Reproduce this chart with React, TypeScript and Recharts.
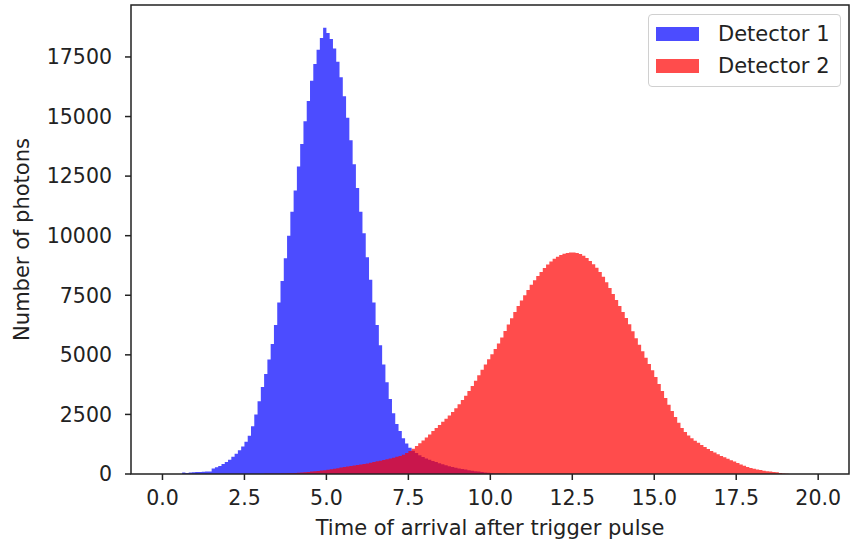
import { ComposedChart, Area, XAxis, YAxis, ReferenceArea, Legend, Label } from 'recharts';

// histogram bins: 200 bins of width 0.1 starting at 0
const BIN_START = 0;
const BIN_WIDTH = 0.1;

// photon counts per bin (one line = one time unit)
const detector1 = [
  0, 0, 0, 0, 0, 0, 60, 40, 60, 70,
  80, 85, 90, 100, 110, 230, 280, 340, 420, 500,
  600, 720, 850, 1000, 1150, 1350, 1600, 2000, 2500, 3050,
  3650, 4200, 4800, 5450, 6250, 7200, 8100, 9050, 10000, 11000,
  11900, 12900, 13850, 14800, 15650, 16500, 17200, 17800, 18300, 18730,
  18500, 18250, 17850, 17300, 16650, 15850, 14950, 14000, 13000, 12000,
  11000, 10100, 9100, 8150, 7200, 6250, 5400, 4600, 3850, 3150,
  2550, 2100, 1800, 1500, 1280, 1100, 980, 880, 790, 710,
  650, 600, 550, 500, 450, 405, 365, 330, 295, 265,
  235, 210, 185, 160, 140, 120, 100, 80, 62, 48,
  36, 26, 18, 12, 8, 5, 3, 0, 0, 0,
  0, 0, 0, 0, 0, 0, 0, 0, 0, 0,
  0, 0, 0, 0, 0, 0, 0, 0, 0, 0,
  0, 0, 0, 0, 0, 0, 0, 0, 0, 0,
  0, 0, 0, 0, 0, 0, 0, 0, 0, 0,
  0, 0, 0, 0, 0, 0, 0, 0, 0, 0,
  0, 0, 0, 0, 0, 0, 0, 0, 0, 0,
  0, 0, 0, 0, 0, 0, 0, 0, 0, 0,
  0, 0, 0, 0, 0, 0, 0, 0, 0, 0,
  0, 0, 0, 0, 0, 0, 0, 0, 0, 0,
];

const detector2 = [
  0, 0, 0, 0, 0, 0, 0, 0, 0, 0,
  0, 0, 0, 0, 0, 0, 0, 0, 0, 0,
  0, 0, 0, 0, 0, 2, 3, 3, 4, 4,
  5, 6, 8, 10, 12, 15, 20, 25, 30, 35,
  40, 50, 60, 70, 85, 100, 115, 130, 145, 160,
  180, 200, 220, 245, 270, 295, 315, 335, 355, 375,
  395, 420, 445, 470, 500, 530, 560, 590, 620, 650,
  680, 720, 760, 810, 880, 960, 1060, 1170, 1290, 1410,
  1530, 1660, 1800, 1930, 2060, 2190, 2320, 2450, 2600, 2760,
  2930, 3100, 3280, 3480, 3690, 3910, 4140, 4370, 4590, 4810,
  5030, 5250, 5480, 5730, 6000, 6270, 6540, 6800, 7050, 7280,
  7500, 7720, 7940, 8130, 8310, 8480, 8640, 8790, 8920, 9030,
  9120, 9190, 9240, 9270, 9290, 9290, 9270, 9230, 9160, 9060,
  8940, 8800, 8650, 8480, 8280, 8050, 7800, 7550, 7300, 7050,
  6800, 6550, 6280, 5990, 5700, 5420, 5150, 4880, 4620, 4350,
  4070, 3780, 3480, 3190, 2910, 2640, 2390, 2150, 1930, 1760,
  1620, 1500, 1400, 1310, 1220, 1130, 1050, 970, 900, 830,
  760, 700, 640, 580, 520, 460, 400, 345, 295, 255,
  220, 190, 165, 140, 120, 100, 85, 70, 40, 20,
  10, 5, 3, 0, 0, 0, 0, 0, 0, 0,
];

const xTicks = [0, 2.5, 5, 7.5, 10, 12.5, 15, 17.5, 20];
const yTicks = [0, 2500, 5000, 7500, 10000, 12500, 15000, 17500];

const X_DOMAIN: [number, number] = [-0.96, 20.94];
const Y_DOMAIN: [number, number] = [0, 19680];

const FONT = '"DejaVu Sans", sans-serif';
const INK = '#222';
const TICK_FONT = 20.5;
const LABEL_FONT = 21;

const data = detector1.map((v, i) => ({
  x: +(BIN_START + i * BIN_WIDTH).toFixed(2),
  d1: v,
  d2: detector2[i],
}));
// closing edge of the last bin
data.push({ x: +(BIN_START + detector1.length * BIN_WIDTH).toFixed(2), d1: 0, d2: 0 });

const renderLegend = (props: any) => {
  const items = props.payload || [];
  return (
    <div
      style={{
        boxSizing: 'border-box',
        width: 193,
        height: 73,
        border: '1px solid #d0d0d0',
        borderRadius: 4,
        background: 'rgba(255,255,255,0.8)',
        paddingTop: 3,
        paddingLeft: 7,
        fontFamily: FONT,
        fontSize: LABEL_FONT,
        color: INK,
      }}
    >
      {items.map((entry: any) => (
        <div key={entry.value} style={{ display: 'flex', alignItems: 'center', height: 32, whiteSpace: 'nowrap' }}>
          <span
            style={{ display: 'inline-block', width: 43, height: 14, background: entry.color, opacity: 0.7, marginRight: 19 }}
          />
          <span>{entry.value}</span>
        </div>
      ))}
    </div>
  );
};

export default function App() {
  return (
    <div style={{ position: 'absolute', left: 0, top: 0, background: '#fff', fontFamily: FONT }}>
      <ComposedChart width={852} height={543} data={data} margin={{ top: 5, right: 3, bottom: 0, left: 0 }}>
        <XAxis
          dataKey="x"
          type="number"
          domain={X_DOMAIN}
          allowDataOverflow
          ticks={xTicks}
          tickFormatter={(v: number) => v.toFixed(1)}
          height={69}
          axisLine={false}
          stroke={INK}
          tickSize={6}
          tickMargin={10}
          tickLine={{ strokeWidth: 1.5 }}
          tick={{ fill: INK, fontSize: TICK_FONT, fontFamily: FONT }}
        >
          <Label
            value="Time of arrival after trigger pulse"
            position="insideBottom"
            offset={8}
            style={{ fill: INK, fontSize: LABEL_FONT, fontFamily: FONT }}
          />
        </XAxis>
        <YAxis
          type="number"
          domain={Y_DOMAIN}
          allowDataOverflow
          ticks={yTicks}
          width={131}
          axisLine={false}
          stroke={INK}
          tickSize={6}
          tickMargin={13}
          tickLine={{ strokeWidth: 1.5 }}
          tick={{ fill: INK, fontSize: TICK_FONT, fontFamily: FONT }}
        >
          <Label
            value="Number of photons"
            angle={-90}
            position="insideLeft"
            offset={22}
            style={{ textAnchor: 'middle', fill: INK, fontSize: LABEL_FONT, fontFamily: FONT }}
          />
        </YAxis>
        <Area
          name="Detector 1"
          dataKey="d1"
          type="stepAfter"
          fill="#0000ff"
          fillOpacity={0.7}
          stroke="none"
          isAnimationActive={false}
        />
        <Area
          name="Detector 2"
          dataKey="d2"
          type="stepAfter"
          fill="#ff0000"
          fillOpacity={0.7}
          stroke="none"
          isAnimationActive={false}
        />
        <ReferenceArea
          x1={X_DOMAIN[0]}
          x2={X_DOMAIN[1]}
          y1={Y_DOMAIN[0]}
          y2={Y_DOMAIN[1]}
          fill="none"
          stroke={INK}
          strokeWidth={1.5}
          ifOverflow="visible"
        />
        <Legend
          layout="horizontal"
          verticalAlign="middle"
          align="center"
          content={renderLegend}
          wrapperStyle={{ position: 'absolute', left: 648, top: 14, width: 193, height: 73 }}
        />
      </ComposedChart>
    </div>
  );
}
